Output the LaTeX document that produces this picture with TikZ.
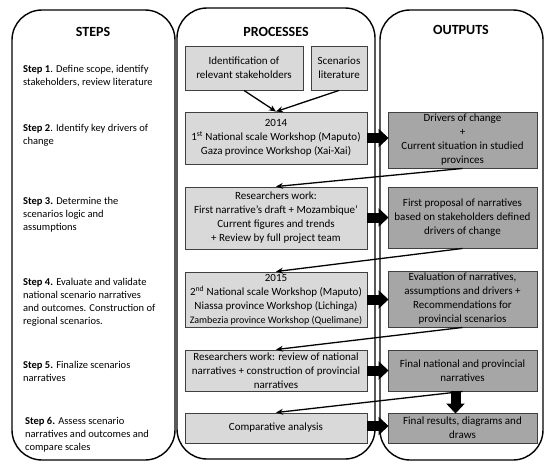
\documentclass[tikz,border=0pt]{standalone}
\usepackage{fontspec}
\setmainfont{Carlito}
\usetikzlibrary{arrows.meta}
\definecolor{procfill}{HTML}{D9D9D9}
\definecolor{outfill}{HTML}{A6A6A6}
\definecolor{boxline}{HTML}{404040}
\tikzset{
  column/.style={draw=black, line width=1.4pt, rounded corners=30pt},
  header/.style={font=\fontsize{14}{16}\selectfont\bfseries},
  steptext/.style={anchor=west, align=left, inner sep=0pt, font=\fontsize{10.5}{13}\selectfont},
  procbox/.style={draw=boxline, line width=0.9pt, fill=procfill, inner sep=0pt, align=center, font=\fontsize{11}{14}\selectfont},
  outbox/.style={draw=boxline, line width=0.9pt, fill=outfill, inner sep=0pt, align=center, font=\fontsize{11}{14}\selectfont},
  thinarrow/.style={draw=black, line width=1.3pt, -{Stealth[length=7pt,width=6pt]}},
  blockarrow/.style={draw=black, line width=10pt, -{Triangle[length=10pt,width=18pt]}, shorten >=-1pt}
}
\begin{document}
\begin{tikzpicture}[x=1pt,y=-1pt]
\useasboundingbox (0,0) rectangle (550,466);
% columns
\draw[column] (12,10) rectangle (175,460);
\draw[column] (177,8) rectangle (375,459);
\draw[column] (380,10) rectangle (543,460);
\node[header] (hsteps) at (93,32) {STEPS};
\node[header] (hproc) at (276,32) {PROCESSES};
\node[header] (hout) at (461,30) {OUTPUTS};
% steps
\node[steptext] (s1) at (23,76) {\textbf{Step 1}. Define scope, identify\\stakeholders, review literature};
\node[steptext] (s2) at (23,135) {\textbf{Step 2}. Identify key drivers of\\change};
\node[steptext] (s3) at (23,215) {\textbf{Step 3.} Determine the\\scenarios logic and\\assumptions};
\node[steptext] (s4) at (23,302.5) {\textbf{Step 4.} Evaluate and validate\\national scenario narratives\\and outcomes. Construction of\\regional scenarios.};
\node[steptext] (s5) at (23,371.5) {\textbf{Step 5.} Finalize scenarios\\narratives};
\node[steptext] (s6) at (25,435) {\textbf{Step 6.} Assess scenario\\narratives and outcomes and\\compare scales};
% process boxes
\node[procbox, minimum width=118pt, minimum height=44pt] (p1) at (244,68) {Identification of\\relevant stakeholders};
\node[procbox, minimum width=56pt, minimum height=44pt] (p2) at (339,68) {Scenarios\\literature};
\node[procbox, minimum width=182pt, minimum height=52pt] (p3) at (276,138) {2014\\1\textsuperscript{st} National scale Workshop (Maputo)\\Gaza province Workshop (Xai-Xai)};
\node[procbox, minimum width=182pt, minimum height=62pt] (p4) at (276,218) {Researchers work:\\First narrative’s draft + Mozambique’\\Current figures and trends\\+ Review by full project team};
\node[procbox, minimum width=182pt, minimum height=55pt] (p5) at (276,299.5) {2015\\2\textsuperscript{nd} National scale Workshop (Maputo)\\Niassa province Workshop (Lichinga)\\{\fontsize{10}{14}\selectfont Zambezia province Workshop (Quelimane)}};
\node[procbox, minimum width=182pt, minimum height=41pt] (p6) at (276,370.5) {Researchers work: review of national\\narratives + construction of provincial\\narratives};
\node[procbox, minimum width=182pt, minimum height=30pt] (p7) at (276,428) {Comparative analysis};
% output boxes
\node[outbox, minimum width=149pt, minimum height=56pt] (o1) at (462.5,140) {Drivers of change\\+\\Current situation in studied\\provinces};
\node[outbox, minimum width=149pt, minimum height=61pt] (o2) at (462.5,217.5) {First proposal of narratives\\based on stakeholders defined\\drivers of change};
\node[outbox, minimum width=149pt, minimum height=56pt] (o3) at (462.5,299) {Evaluation of narratives,\\assumptions and drivers +\\Recommendations for\\provincial scenarios};
\node[outbox, minimum width=149pt, minimum height=41pt] (o4) at (462.5,370.5) {Final national and provincial\\narratives};
\node[outbox, minimum width=149pt, minimum height=30pt] (o5) at (462.5,428) {Final results, diagrams and\\draws};
% thin arrows
\draw[thinarrow] (p1.south) -- (p3.north);
\draw[thinarrow] (p2.south) -- (p3.north);
\draw[thinarrow] (o1.south) -- (p4.north);
\draw[thinarrow] (o2.south) -- (p5.north);
\draw[thinarrow] (o3.south) -- (p6.north);
\draw[thinarrow] (o4.south) -- (p7.north);
% block arrows
\draw[blockarrow] (p3.east) -- (p3.east -| o1.west);
\draw[blockarrow] (p4.east |- o2.west) -- (o2.west);
\draw[blockarrow] (p5.east) -- (p5.east -| o3.west);
\draw[blockarrow] (p6.east) -- (o4.west);
\draw[blockarrow] ([yshift=2pt]p7.east) -- ([yshift=2pt]o5.west);
\coordinate (dtop) at ([xshift=-7pt]o4.south);
\draw[blockarrow] (dtop) -- (dtop |- o5.north);
\end{tikzpicture}
\end{document}
